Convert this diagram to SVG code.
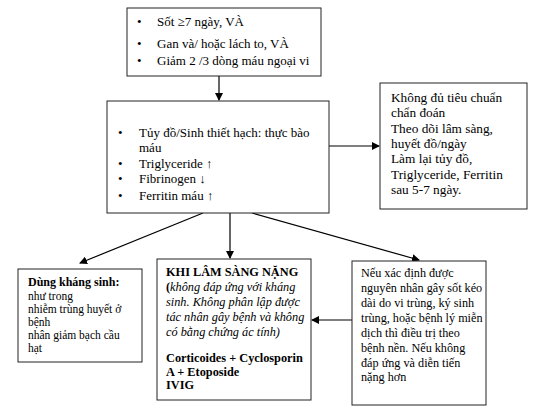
<svg xmlns="http://www.w3.org/2000/svg" width="553" height="413" viewBox="0 0 553 413">
<defs>
<marker id="ah" markerWidth="8" markerHeight="8" refX="7" refY="4" orient="auto" markerUnits="userSpaceOnUse">
<path d="M0,0 L8,4 L0,8 Z" fill="#000"/>
</marker>
<style>
.box{fill:#fff;stroke:#222;stroke-width:1}
.t{font-family:"Liberation Serif","Times New Roman",serif;font-size:13px;fill:#000}
.s4{font-size:11.5px}
.s5{font-size:12.3px}
.s6{font-size:12.2px}
.s3{font-size:13.3px}
.b{font-weight:bold}
.i{font-style:italic}
.c{stroke:#000;stroke-width:1.2;fill:none;marker-end:url(#ah)}
</style>
</defs>
<rect width="553" height="413" fill="#fff"/>
<g id="connectors">
<line class="c" x1="219" y1="76" x2="219" y2="100"/>
<line class="c" x1="329" y1="146" x2="379" y2="146"/>
<line class="c" x1="203" y1="213" x2="80" y2="263"/>
<line class="c" x1="230" y1="213" x2="230" y2="258"/>
<line class="c" x1="252" y1="213" x2="419" y2="260"/>
<line class="c" x1="352" y1="320" x2="312" y2="320"/>
</g>
<g id="n1">
<rect class="box" x="127" y="8" width="194" height="68"/>
<g class="t">
<text x="137" y="26">•</text><text x="157" y="26">Sốt ≥7 ngày, VÀ</text>
<text x="137" y="48">•</text><text x="157" y="48">Gan và/ hoặc lách to, VÀ</text>
<text x="137" y="65">•</text><text x="157" y="65">Giảm 2 /3 dòng máu ngoại vi</text>
</g>
</g>
<g id="n2">
<rect class="box" x="107" y="101" width="222" height="112"/>
<g class="t">
<text x="118" y="137">•</text><text x="139" y="137">Tủy đồ/Sinh thiết hạch: thực bào</text>
<text x="139" y="152">máu</text>
<text x="118" y="168">•</text><text x="139" y="168">Triglyceride ↑</text>
<text x="118" y="183">•</text><text x="139" y="183">Fibrinogen ↓</text>
<text x="118" y="200">•</text><text x="139" y="200">Ferritin  máu ↑</text>
</g>
</g>
<g id="n3">
<rect class="box" x="380" y="83" width="147" height="126"/>
<g class="t s3">
<text x="391" y="102">Không đủ tiêu chuẩn</text>
<text x="391" y="117">chẩn đoán</text>
<text x="391" y="133">Theo dõi lâm sàng,</text>
<text x="391" y="148">huyết đồ/ngày</text>
<text x="391" y="163">Làm lại tủy đồ,</text>
<text x="391" y="179">Triglyceride, Ferritin</text>
<text x="391" y="194">sau 5-7 ngày.</text>
</g>
</g>
<g id="n4">
<rect class="box" x="18" y="269" width="124" height="93"/>
<g class="t s4">
<text class="b" x="28" y="286" style="font-size:12px">Dùng kháng sinh:</text>
<text x="28" y="300">như trong</text>
<text x="28" y="313">nhiễm trùng huyết ở</text>
<text x="28" y="326">bệnh</text>
<text x="28" y="339">nhân giảm bạch cầu</text>
<text x="28" y="352">hạt</text>
</g>
</g>
<g id="n5">
<rect class="box" x="157" y="259" width="154" height="141"/>
<g class="t s5">
<text class="b" x="166" y="276">KHI LÂM SÀNG NẶNG</text>
<text x="166" y="291"><tspan class="b">(</tspan><tspan class="i">không đáp ứng với kháng</tspan></text>
<text class="i" x="166" y="306">sinh. Không phân lập được</text>
<text class="i" x="166" y="321">tác nhân gây bệnh và không</text>
<text class="i" x="166" y="336">có bằng chứng ác tính)</text>
<text class="b" x="166" y="362">Corticoides + Cyclosporin</text>
<text class="b" x="166" y="376">A + Etoposide</text>
<text class="b" x="166" y="389">IVIG</text>
</g>
</g>
<g id="n6">
<rect class="box" x="352" y="261" width="134" height="144"/>
<g class="t s6">
<text x="361" y="277">Nếu xác định được</text>
<text x="361" y="292">nguyên nhân gây sốt kéo</text>
<text x="361" y="307">dài  do vi trùng, ký sinh</text>
<text x="361" y="322">trùng, hoặc bệnh lý miễn</text>
<text x="361" y="337">dịch thì điều trị theo</text>
<text x="361" y="352">bệnh nền. Nếu không</text>
<text x="361" y="367">đáp ứng và diễn tiến</text>
<text x="361" y="381">nặng hơn</text>
</g>
</g>
</svg>
